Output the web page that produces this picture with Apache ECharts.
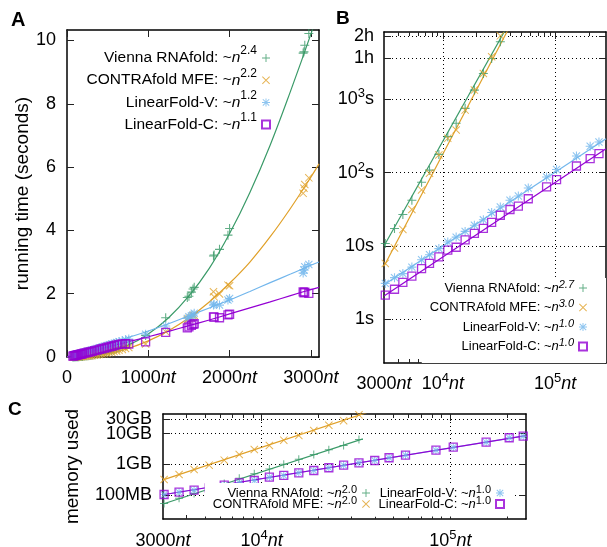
<!DOCTYPE html>
<html>
<head>
<meta charset="utf-8">
<script src="https://cdn.jsdelivr.net/npm/echarts@6/dist/echarts.min.js"></script>
<style>
  html, body { margin: 0; padding: 0; background: #fff; }
  #chart { width: 607px; height: 547px; }
</style>
</head>
<body>
<div id="chart"></div>
<script>
// ---------- data ----------
const methods = ['Vienna RNAfold', 'CONTRAfold MFE', 'LinearFold-V', 'LinearFold-C']
const aExponents = ['2.4', '2.2', '1.2', '1.1']
const bExponents = ['2.7', '3.0', '1.0', '1.0']
const cExponents = ['2.0', '2.0', '1.0', '1.0']

// panel A: running time (seconds) vs sequence length (nt)
const aLengths = [72, 85, 96, 105, 118, 130, 145, 160, 175, 190, 210, 235, 260, 285, 310, 340, 370, 400, 430, 460, 490, 520, 550, 580, 610, 640, 680, 720, 760, 967, 1214, 1480, 1500, 1530, 1550, 1565, 1802, 1810, 1876, 1980, 2000, 2905, 2915, 2925, 2975]
const aVienna = [0.002, 0.003, 0.004, 0.005, 0.006, 0.008, 0.01, 0.012, 0.015, 0.018, 0.023, 0.03, 0.038, 0.047, 0.057, 0.07, 0.086, 0.1, 0.12, 0.14, 0.16, 0.18, 0.2, 0.23, 0.26, 0.29, 0.33, 0.38, 0.44, 0.68, 1.24, 1.88, 1.92, 2.05, 2.15, 2.2, 3.19, 3.22, 3.4, 3.85, 4.06, 9.6, 9.64, 9.85, 10.22]
const aContra = [0.002, 0.002, 0.003, 0.004, 0.005, 0.006, 0.008, 0.01, 0.012, 0.014, 0.018, 0.023, 0.03, 0.037, 0.045, 0.055, 0.066, 0.078, 0.092, 0.1, 0.12, 0.14, 0.15, 0.17, 0.19, 0.21, 0.24, 0.27, 0.3, 0.41, 0.8, 1.18, 1.22, 1.25, 1.3, 1.32, 2.06, 1.9, 1.99, 2.27, 2.25, 5.17, 5.33, 5.45, 5.66]
const aLinearV = [0.05, 0.06, 0.07, 0.075, 0.08, 0.09, 0.1, 0.11, 0.12, 0.13, 0.15, 0.16, 0.18, 0.2, 0.22, 0.24, 0.27, 0.29, 0.31, 0.34, 0.36, 0.39, 0.41, 0.43, 0.46, 0.48, 0.51, 0.54, 0.57, 0.72, 0.98, 1.22, 1.27, 1.3, 1.33, 1.38, 1.64, 1.67, 1.64, 1.8, 1.85, 2.65, 2.75, 2.85, 2.92]
const aLinearC = [0.03, 0.04, 0.045, 0.05, 0.06, 0.065, 0.075, 0.085, 0.095, 0.1, 0.12, 0.13, 0.15, 0.16, 0.18, 0.2, 0.22, 0.24, 0.26, 0.28, 0.3, 0.32, 0.34, 0.36, 0.38, 0.4, 0.41, 0.42, 0.41, 0.48, 0.78, 0.92, 0.95, 1.0, 1.03, 1.05, 1.27, 1.26, 1.24, 1.33, 1.35, 2.06, 2.03, 2.05, 2.01]
const aFitLengths = [0, 250, 500, 750, 1000, 1250, 1500, 1750, 2000, 2250, 2500, 2750, 3000, 3100]
const aFitVienna = [0, 0.03, 0.14, 0.37, 0.73, 1.24, 1.93, 2.8, 3.9, 5.2, 6.7, 8.4, 10.2, 11.0]
const aFitContra = [0, 0.024, 0.11, 0.27, 0.51, 0.83, 1.24, 1.74, 2.33, 3.0, 3.8, 4.7, 5.68, 6.1]
const aFitLinearV = [0, 0.18, 0.4, 0.61, 0.82, 1.05, 1.3, 1.55, 1.8, 2.07, 2.35, 2.62, 2.9, 3.0]
const aFitLinearC = [0, 0.15, 0.32, 0.48, 0.64, 0.81, 0.99, 1.17, 1.36, 1.55, 1.74, 1.94, 2.13, 2.2]
const aTicksX = [0, 1000, 2000, 3000]
const aLabelsX = ['0', '1000nt', '2000nt', '3000nt']
const aTicksY = [0, 2, 4, 6, 8, 10]

// panel B: running time, log-log
const bLengths = [3080, 3720, 4415, 5310, 6475, 7620, 9230, 11080, 13150, 15800, 19100, 22960, 27200, 32500, 39600, 47000, 57600, 83800, 102800, 154500, 204600, 245000]
const bVienna = [10.8, 17.3, 26.8, 42, 74, 108, 177, 309, 470, 750, 1330, 2240, 3590, 6060]
const bContra = [5.78, 9.4, 16.8, 31.4, 58, 98, 174, 293, 380, 711, 1330, 2240, 3790, 7310]
const bLinearV = [3.09, 3.7, 4.2, 5.15, 6.5, 7.6, 9.2, 11.3, 13.2, 15.8, 19.2, 22.7, 28.6, 34, 42, 48, 61.7, 87, 110, 168, 228, 261]
const bLinearC = [2.14, 2.57, 3.18, 3.88, 4.9, 5.78, 7.1, 8.77, 9.6, 12.1, 14.8, 17.4, 20.9, 26.2, 31.4, 34.8, 44, 63.7, 80.3, 123, 155, 181]
const bFitVienna = [[3000, 10.0], [36000, 8800]]
const bFitContra = [[3000, 5.3], [38000, 8800]]
const bFitLinearV = [[3000, 2.95], [283000, 290]]
const bFitLinearC = [[3000, 2.08], [283000, 212]]
const bTicksX = [10000, 100000]
const bLabelValuesX = [3000, 10000, 100000]
const bLabelsX = ['3000nt', '10^4nt', '10^5nt']
const bMinorX = [4000, 5000, 6000, 7000, 8000, 9000, 20000, 30000, 40000, 50000, 60000, 70000, 80000, 90000, 200000]
const bTicksY = [1, 10, 100, 1000, 3600, 7200]
const bLabelsY = ['1s', '10s', '10^2s', '10^3s', '1h', '2h']

// panel C: memory used (MB), log-log
const cLengths = [3040, 3650, 4385, 5270, 6335, 7610, 9140, 10990, 13100, 15740, 18900, 22710, 27200, 32800, 39770, 47370, 57900, 83950, 103700, 154900, 205300, 243600]
const cVienna = [54, 80, 115, 165, 240, 360, 500, 720, 1020, 1470, 2100, 3000, 4140, 6450]
const cContra = [326, 473, 689, 949, 1380, 2113, 3070, 4140, 6150, 8700, 12600, 18700, 26500, 40800]
const cLinearV = [105, 125, 146, 176, 212, 255, 300, 385, 442, 535, 640, 780, 950, 1130, 1350, 1650, 2010, 2900, 3650, 5300, 7350, 8300]
const cLinearC = [106, 126, 147, 175, 213, 254, 302, 387, 440, 537, 638, 782, 949, 1135, 1349, 1651, 2006, 2913, 3645, 5300, 7360, 8300]
const cFitVienna = [[3000, 52], [34400, 6800]]
const cFitContra = [[3000, 318], [36000, 48000]]
const cFitLinearV = [[3000, 104], [252000, 8600]]
const cFitLinearC = [[3000, 104], [252000, 8600]]
const cTicksX = [10000, 100000]
const cLabelValuesX = [3000, 10000, 100000]
const cLabelsX = ['3000nt', '10^4nt', '10^5nt']
const cMinorX = [4000, 5000, 6000, 7000, 8000, 9000, 20000, 30000, 40000, 50000, 60000, 70000, 80000, 90000, 200000]
const cTicksY = [100, 1000, 10000, 30000]
const cLabelsY = ['100MB', '1GB', '10GB', '30GB']
// 30GB sits too close to 10GB for one axis to show both labels
const cLabelValuesY = [100, 1000, 10000]
const cTopLabelValueY = [30000]

// ---------- styling ----------
const FONT = '"Liberation Sans", Arial, Helvetica, sans-serif'
const colors = ['#3a9a68', '#e0a028', '#72b6ec', '#9400d3']
const PLUS = 'path://M4.4,0H5.6V10H4.4Z M0,4.4H10V5.6H0Z'
const CROSS = 'path://M0,0.85L0.85,0L10,9.15L9.15,10Z M9.15,0L10,0.85L0.85,10L0,9.15Z'
const STAR = 'path://M4.4,0H5.6V10H4.4Z M0,4.4H10V5.6H0Z M0.6,1.45L1.45,0.6L9.4,8.55L8.55,9.4Z M8.55,0.6L9.4,1.45L1.45,9.4L0.6,8.55Z'
const symbols = [PLUS, CROSS, STAR, 'rect']

const labelRich = {
  r: { fontFamily: FONT, fontSize: 18, lineHeight: 24, color: '#000' },
  i: { fontFamily: FONT, fontSize: 18, lineHeight: 24, fontStyle: 'italic', color: '#000' },
  s: { fontFamily: FONT, fontSize: 13, lineHeight: 10, verticalAlign: 'top', color: '#000' }
}

// '10^4nt' -> rich text tokens
function toRich(str) {
  let out = ''
  let buf = ''
  const flush = () => { if (buf) { out += '{r|' + buf + '}'; buf = '' } }
  for (let i = 0; i < str.length; i++) {
    if (str[i] === '^') { flush(); out += '{s|' + str[i + 1] + '}'; i++ }
    else if (str.startsWith('nt', i)) { flush(); out += '{i|nt}'; i++ }
    else buf += str[i]
  }
  flush()
  return out
}

function tickFormatter(values, labels) {
  return v => {
    const i = values.findIndex(t => Math.abs(t - v) <= 1e-6 * Math.max(1, t))
    return i < 0 ? '' : toRich(labels[i])
  }
}

const borderLine = { show: true, onZero: false, lineStyle: { color: '#000', width: 1.5 } }
const hiddenLine = { show: false, onZero: false }
const dotted = { show: true, lineStyle: { color: '#000', width: 1, type: [1, 3] } }

function ticks(values, len) {
  return { show: true, inside: true, length: len, customValues: values, lineStyle: { color: '#222', width: 1 } }
}

function axis(opts) {
  return Object.assign({
    axisLine: borderLine,
    axisLabel: { show: false },
    splitLine: { show: false },
    minorTick: { show: false }
  }, opts)
}

function labels(values, allValues, texts, margin) {
  return {
    show: true, customValues: values, margin: margin, hideOverlap: false,
    showMinLabel: true, showMaxLabel: true,
    formatter: tickFormatter(allValues, texts), rich: labelRich
  }
}

function pointSeries(panel, k, xIdx, yIdx, lengths, values, size) {
  const square = k === 3
  return {
    type: 'scatter',
    name: panel + '#' + methods[k],
    xAxisIndex: xIdx,
    yAxisIndex: yIdx,
    data: values.map((v, i) => [lengths[i], v]),
    symbol: symbols[k],
    symbolSize: size,
    itemStyle: square
      ? { color: 'rgba(255,255,255,0)', borderColor: colors[k], borderWidth: 1.3 }
      : { color: colors[k] },
    silent: true,
    z: 3
  }
}

function fitSeries(k, xIdx, yIdx, data, smooth) {
  return {
    type: 'line',
    name: 'fit' + xIdx + '-' + k,
    xAxisIndex: xIdx,
    yAxisIndex: yIdx,
    data: data,
    smooth: smooth,
    showSymbol: false,
    symbol: 'none',
    lineStyle: { color: colors[k], width: 1.2 },
    silent: true,
    z: 2
  }
}

function legendFor(panel, exps, k0, k1, fontSize, supSize, supItalic, lineH) {
  const names = methods.slice(k0, k1).map(m => panel + '#' + m)
  return {
    data: names,
    orient: 'vertical',
    align: 'right',
    selectedMode: false,
    padding: 0,
    formatter: name => {
      const m = name.split('#')[1]
      return '{t|' + m + ': ~}{n|n}{s|' + exps[methods.indexOf(m)] + '}'
    },
    textStyle: {
      fontFamily: FONT, fontSize: fontSize, color: '#000',
      rich: {
        t: { fontFamily: FONT, fontSize: fontSize, lineHeight: lineH, color: '#000' },
        n: { fontFamily: FONT, fontSize: fontSize, lineHeight: lineH, fontStyle: 'italic', color: '#000' },
        s: { fontFamily: FONT, fontSize: supSize, lineHeight: 9, verticalAlign: 'top', fontStyle: supItalic ? 'italic' : 'normal', color: '#000' }
      }
    }
  }
}

const chart = echarts.init(document.getElementById('chart'), null, { renderer: 'canvas' })

const option = {
  animation: false,
  backgroundColor: '#fff',
  textStyle: { fontFamily: FONT },
  graphic: [
    { type: 'text', left: 11, top: 10, style: { text: 'A', fontFamily: FONT, fontSize: 20, fontWeight: 'bold', fill: '#000' } },
    { type: 'text', left: 336, top: 9, style: { text: 'B', fontFamily: FONT, fontSize: 19, fontWeight: 'bold', fill: '#000' } },
    { type: 'text', left: 8, top: 400, style: { text: 'C', fontFamily: FONT, fontSize: 19, fontWeight: 'bold', fill: '#000' } }
  ],
  grid: [
    { left: 67, top: 30, width: 252, height: 327, containLabel: false, outerBoundsMode: 'none' },
    { left: 384, top: 32, width: 222, height: 331, containLabel: false, outerBoundsMode: 'none' },
    { left: 163, top: 414, width: 363, height: 105, containLabel: false, outerBoundsMode: 'none' }
  ],
  xAxis: [
    // A
    axis({ gridIndex: 0, type: 'value', position: 'bottom', min: 0, max: 3100,
      axisTick: ticks(aTicksX, 7), axisLabel: labels(aTicksX, aTicksX, aLabelsX, 9) }),
    axis({ gridIndex: 0, type: 'value', position: 'top', min: 0, max: 3100, axisTick: ticks(aTicksX, 7) }),
    // B
    axis({ gridIndex: 1, type: 'log', position: 'bottom', min: 3000, max: 283000,
      axisTick: ticks(bTicksX, 7), axisLabel: labels(bLabelValuesX, bLabelValuesX, bLabelsX, 9), splitLine: dotted }),
    axis({ gridIndex: 1, type: 'log', position: 'bottom', min: 3000, max: 283000, axisLine: hiddenLine, axisTick: ticks(bMinorX, 4) }),
    axis({ gridIndex: 1, type: 'log', position: 'top', min: 3000, max: 283000, axisTick: ticks(bTicksX, 7) }),
    axis({ gridIndex: 1, type: 'log', position: 'top', min: 3000, max: 283000, axisLine: hiddenLine, axisTick: ticks(bMinorX, 4) }),
    // C
    axis({ gridIndex: 2, type: 'log', position: 'bottom', min: 3000, max: 252000,
      axisTick: ticks(cTicksX, 7), axisLabel: labels(cLabelValuesX, cLabelValuesX, cLabelsX, 10), splitLine: dotted }),
    axis({ gridIndex: 2, type: 'log', position: 'bottom', min: 3000, max: 252000, axisLine: hiddenLine, axisTick: ticks(cMinorX, 4) }),
    axis({ gridIndex: 2, type: 'log', position: 'top', min: 3000, max: 252000, axisTick: ticks(cTicksX, 7) }),
    axis({ gridIndex: 2, type: 'log', position: 'top', min: 3000, max: 252000, axisLine: hiddenLine, axisTick: ticks(cMinorX, 4) })
  ],
  yAxis: [
    // A
    axis({ gridIndex: 0, type: 'value', position: 'left', min: 0, max: 10.33,
      axisTick: ticks(aTicksY, 7), axisLabel: labels(aTicksY, aTicksY, aTicksY.map(String), 11),
      name: 'running time (seconds)', nameLocation: 'middle', nameGap: 35,
      nameTextStyle: { fontFamily: FONT, fontSize: 19, color: '#000' } }),
    axis({ gridIndex: 0, type: 'value', position: 'right', min: 0, max: 10.33, axisTick: ticks(aTicksY, 7) }),
    // B
    axis({ gridIndex: 1, type: 'log', position: 'left', min: 0.254, max: 8240,
      axisTick: ticks(bTicksY, 7), axisLabel: labels(bTicksY, bTicksY, bLabelsY, 10), splitLine: dotted }),
    axis({ gridIndex: 1, type: 'log', position: 'right', min: 0.254, max: 8240, axisTick: ticks(bTicksY, 7) }),
    // C
    axis({ gridIndex: 2, type: 'log', position: 'left', min: 17, max: 43500,
      axisTick: ticks(cTicksY, 7), axisLabel: labels(cLabelValuesY, cTicksY, cLabelsY, 11), splitLine: dotted,
      name: 'memory used', nameLocation: 'middle', nameGap: 81,
      nameTextStyle: { fontFamily: FONT, fontSize: 19, color: '#000' } }),
    axis({ gridIndex: 2, type: 'log', position: 'right', min: 17, max: 43500, axisTick: ticks(cTicksY, 7) }),
    axis({ gridIndex: 2, type: 'log', position: 'left', min: 17, max: 43500, axisLine: hiddenLine,
      axisTick: { show: false }, axisLabel: labels(cTopLabelValueY, cTicksY, cLabelsY, 11) })
  ],
  legend: [
    Object.assign(legendFor('A', aExponents, 0, 4, 15.5, 12, false, 26),
      { right: 336, top: 45, itemWidth: 8, itemHeight: 8, itemGap: 1.2 }),
    Object.assign(legendFor('B', bExponents, 0, 4, 13, 11, true, 18),
      { right: 1, top: 278, itemWidth: 8, itemHeight: 8, itemGap: 4, padding: [1, 18, 10, 8], backgroundColor: '#fff' }),
    Object.assign(legendFor('C', cExponents, 0, 2, 13, 11, false, 18),
      { right: 231, top: 483, itemWidth: 8, itemHeight: 8, itemGap: -4.5, padding: [1, 6, 6, 8], backgroundColor: '#fff' }),
    Object.assign(legendFor('C', cExponents, 2, 4, 13, 11, false, 18),
      { right: 95, top: 483, itemWidth: 8, itemHeight: 8, itemGap: -4.5, padding: [1, 7, 6, 8], backgroundColor: '#fff' })
  ],
  series: [
    fitSeries(0, 0, 0, aFitLengths.map((x, i) => [x, aFitVienna[i]]), 0.4),
    fitSeries(1, 0, 0, aFitLengths.map((x, i) => [x, aFitContra[i]]), 0.4),
    fitSeries(2, 0, 0, aFitLengths.map((x, i) => [x, aFitLinearV[i]]), 0.4),
    fitSeries(3, 0, 0, aFitLengths.map((x, i) => [x, aFitLinearC[i]]), 0.4),
    pointSeries('A', 0, 0, 0, aLengths, aVienna, 9),
    pointSeries('A', 1, 0, 0, aLengths, aContra, 8),
    pointSeries('A', 2, 0, 0, aLengths, aLinearV, 9),
    pointSeries('A', 3, 0, 0, aLengths, aLinearC, 8),

    fitSeries(0, 2, 2, bFitVienna, false),
    fitSeries(1, 2, 2, bFitContra, false),
    fitSeries(2, 2, 2, bFitLinearV, false),
    fitSeries(3, 2, 2, bFitLinearC, false),
    pointSeries('B', 0, 2, 2, bLengths, bVienna, 9),
    pointSeries('B', 1, 2, 2, bLengths, bContra, 8),
    pointSeries('B', 2, 2, 2, bLengths, bLinearV, 9),
    pointSeries('B', 3, 2, 2, bLengths, bLinearC, 8),

    fitSeries(0, 6, 4, cFitVienna, false),
    fitSeries(1, 6, 4, cFitContra, false),
    fitSeries(2, 6, 4, cFitLinearV, false),
    fitSeries(3, 6, 4, cFitLinearC, false),
    pointSeries('C', 0, 6, 4, cLengths, cVienna, 8),
    pointSeries('C', 1, 6, 4, cLengths, cContra, 8),
    pointSeries('C', 2, 6, 4, cLengths, cLinearV, 8),
    pointSeries('C', 3, 6, 4, cLengths, cLinearC, 8)
  ]
}

chart.setOption(option)
</script>
</body>
</html>
